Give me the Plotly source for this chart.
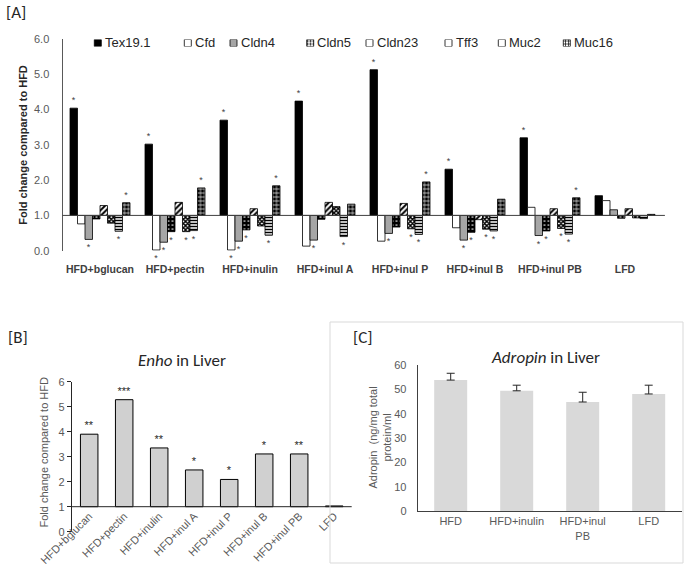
import plotly.graph_objects as go

# ---------------- data ----------------
GROUPS = ["HFD+bglucan", "HFD+pectin", "HFD+inulin", "HFD+inul A",
          "HFD+inul P", "HFD+inul B", "HFD+inul PB", "LFD"]
GENES = ["Tex19.1", "Cfd", "Cldn4", "Cldn5", "Cldn23", "Tff3", "Muc2", "Muc16"]

tex19 = [4.04, 3.02, 3.70, 4.24, 5.13, 2.31, 3.20, 1.56]
cfd = [0.76, 0.02, 0.02, 0.13, 0.27, 0.65, 1.23, 1.42]
cldn4 = [0.32, 0.24, 0.27, 0.30, 0.49, 0.30, 0.43, 1.16]
cldn5 = [0.90, 0.54, 0.59, 0.89, 0.67, 0.52, 0.56, 0.92]
cldn23 = [1.28, 1.37, 1.19, 1.37, 1.34, 0.88, 1.19, 1.19]
tff3 = [0.78, 0.54, 0.70, 1.25, 0.62, 0.61, 0.63, 0.93]
muc2 = [0.55, 0.57, 0.44, 0.40, 0.46, 0.56, 0.47, 0.91]
muc16 = [1.36, 1.78, 1.84, 1.32, 1.95, 1.46, 1.50, 1.03]

sig_tex19 = ["*", "*", "*", "*", "*", "*", "*", ""]
sig_cfd = ["", "*", "*", "", "", "", "", ""]
sig_cldn4 = ["*", "*", "*", "*", "*", "*", "*", ""]
sig_cldn5 = ["", "*", "*", "", "", "*", "*", ""]
sig_cldn23 = ["", "", "", "", "", "", "", ""]
sig_tff3 = ["", "*", "", "", "*", "*", "*", ""]
sig_muc2 = ["*", "*", "*", "*", "*", "*", "*", ""]
sig_muc16 = ["*", "*", "*", "", "*", "", "*", ""]

enho = [3.90, 5.28, 3.35, 2.47, 2.09, 3.11, 3.11, 1.03]
enho_sig = ["**", "***", "**", "*", "*", "*", "**", ""]

GROUPS_C = ["HFD", "HFD+inulin", "HFD+inul<br>PB", "LFD"]
adropin = [53.8, 49.4, 44.8, 48.1]
adropin_err = [2.8, 2.3, 4.0, 3.6]

HFD_LEVEL = 1.0

# ---------------- styles ----------------
W, H = 685, 572
FONT = "Liberation Sans, Arial, sans-serif"
TFONT = "Carlito, Lato, sans-serif"

STYLE = {
    "Tex19.1": dict(color="black", shape="", fg="black", bg="black", sol=0.3, size=4),
    "Cfd": dict(color="white", shape="", fg="white", bg="white", sol=0.3, size=4),
    "Cldn4": dict(color="#a6a6a6", shape="", fg="#a6a6a6", bg="#a6a6a6", sol=0.3, size=4),
    "Cldn5": dict(color="black", shape=".", fg="white", bg="black", sol=0.15, size=4),
    "Cldn23": dict(color="white", shape="/", fg="black", bg="white", sol=0.5, size=4),
    "Tff3": dict(color="white", shape="x", fg="black", bg="white", sol=0.7, size=3),
    "Muc2": dict(color="white", shape="-", fg="black", bg="white", sol=0.5, size=3),
    "Muc16": dict(color="black", shape="+", fg="white", bg="black", sol=0.3, size=4),
}


def px_x(p):
    return p / W


def px_y(p):
    return 1 - p / H


series = [tex19, cfd, cldn4, cldn5, cldn23, tff3, muc2, muc16]
sigs = [sig_tex19, sig_cfd, sig_cldn4, sig_cldn5, sig_cldn23, sig_tff3, sig_muc2, sig_muc16]

fig = go.Figure()

# ---------------- panel A ----------------
for gene, vals, sg in zip(GENES, series, sigs):
    st = STYLE[gene]
    mk = dict(color=st["color"], line=dict(color="black", width=0.8))
    if st["shape"]:
        mk["pattern"] = dict(shape=st["shape"], fgcolor=st["fg"], bgcolor=st["bg"],
                             size=st["size"], solidity=st["sol"], fillmode="replace")
    fig.add_trace(go.Bar(
        x=GROUPS, y=[v - HFD_LEVEL for v in vals], base=HFD_LEVEL, name=gene,
        marker=mk, text=sg, textposition="outside", constraintext="none",
        textfont=dict(size=9, color="#404040", family=FONT), cliponaxis=False,
        showlegend=False, xaxis="x", yaxis="y", hoverinfo="skip"))

# manual legend swatches (one bar each) on a pixel-unit helper axis
LEG_LEFT = [94.3, 184.3, 230, 306.7, 366, 445, 498.3, 563.3]
SW = 7
fig.add_trace(go.Bar(
    x=[l + SW / 2 for l in LEG_LEFT], y=[1] * len(GENES), width=SW,
    marker=dict(color=[STYLE[g]["color"] for g in GENES],
                line=dict(color="black", width=0.8),
                pattern=dict(shape=[STYLE[g]["shape"] for g in GENES],
                             fgcolor=[STYLE[g]["fg"] for g in GENES],
                             bgcolor=[STYLE[g]["bg"] for g in GENES],
                             size=3, solidity=0.4, fillmode="replace")),
    xaxis="x4", yaxis="y4", showlegend=False, hoverinfo="skip"))

# ---------------- panel B ----------------
fig.add_trace(go.Bar(
    x=GROUPS, y=[v - HFD_LEVEL for v in enho], base=HFD_LEVEL, width=0.5,
    marker=dict(color="#d0d0d0", line=dict(color="black", width=1)),
    text=enho_sig, textposition="outside", constraintext="none",
    textfont=dict(size=11, color="#262626", family=FONT), cliponaxis=False,
    xaxis="x2", yaxis="y2", showlegend=False, hoverinfo="skip"))

# ---------------- panel C ----------------
fig.add_trace(go.Bar(
    x=GROUPS_C, y=adropin, width=0.5, marker=dict(color="#d9d9d9", line=dict(width=0)),
    error_y=dict(type="data", array=adropin_err, arrayminus=[0] * len(adropin_err),
                 symmetric=False, color="#262626", thickness=1, width=4),
    xaxis="x3", yaxis="y3", showlegend=False, hoverinfo="skip"))

# ---------------- layout ----------------
gray = "#595959"
B_Y0, B_Y6 = 531.7, 381.7
b_line_px = B_Y0 - (B_Y0 - B_Y6) * HFD_LEVEL / 6  # pixel row of the y=1 axis line in B

fig.update_layout(
    width=W, height=H, margin=dict(l=0, r=0, t=0, b=0, autoexpand=False),
    paper_bgcolor="white", plot_bgcolor="rgba(0,0,0,0)",
    barmode="group", bargap=0.2, bargroupgap=0,
    font=dict(family=FONT, size=11, color=gray),
    xaxis=dict(domain=[px_x(62.5), px_x(662.5)], anchor="y", showline=False,
               ticks="", showgrid=False, zeroline=False, automargin=False,
               ticklabelstandoff=11,
               tickfont=dict(size=10.5, color="#404040", family=FONT, weight="bold")),
    yaxis=dict(domain=[px_y(250.7), px_y(39)], anchor="x", range=[0, 6], dtick=1,
               tickformat=".1f", showline=True, linecolor="#595959", linewidth=1,
               ticks="", showgrid=False, zeroline=False, ticklabelstandoff=10,
               automargin=False, tickfont=dict(size=11, color=gray)),
    xaxis2=dict(domain=[px_x(71.7), px_x(351.7)], anchor="free", position=px_y(b_line_px),
                showline=False, ticks="", showgrid=False, zeroline=False, tickangle=-45,
                automargin=False, tickfont=dict(size=11, color=gray)),
    yaxis2=dict(domain=[px_y(B_Y0), px_y(B_Y6)], anchor="x2", range=[0, 6], dtick=1,
                showline=True, linecolor="#262626", linewidth=1, ticks="outside",
                ticklen=4, tickcolor="#262626", showgrid=False, zeroline=False,
                automargin=False, tickfont=dict(size=11, color=gray)),
    xaxis3=dict(domain=[px_x(417.7), px_x(681.7)], anchor="y3", showline=True,
                linecolor="#404040", linewidth=1, ticks="", showgrid=False,
                zeroline=False, automargin=False, tickfont=dict(size=11, color=gray)),
    yaxis3=dict(domain=[px_y(511), px_y(365)], anchor="x3", range=[0, 60], dtick=10,
                showline=True, linecolor="#404040", linewidth=1, ticks="",
                showgrid=False, zeroline=False, ticklabelstandoff=8,
                automargin=False, tickfont=dict(size=11, color=gray)),
    xaxis4=dict(domain=[0, 1], range=[0, W], anchor="y4", visible=False,
                fixedrange=True, automargin=False),
    yaxis4=dict(domain=[px_y(46.5), px_y(39.5)], range=[0, 1], anchor="x4",
                visible=False, fixedrange=True, automargin=False),
)

shapes = [
    dict(type="line", xref="x domain", yref="y", x0=0, x1=1.004, y0=HFD_LEVEL, y1=HFD_LEVEL,
         line=dict(color="#404040", width=1)),
    dict(type="line", xref="x2 domain", yref="y2", x0=0, x1=1, y0=HFD_LEVEL, y1=HFD_LEVEL,
         line=dict(color="#262626", width=1)),
    dict(type="rect", xref="paper", yref="paper", x0=px_x(330), x1=px_x(683),
         y0=px_y(563), y1=px_y(322), line=dict(color="#d9d9d9", width=1)),
]
fig.update_layout(shapes=shapes)


def note(x, y, text, size=11, color=gray, family=FONT, angle=0, xanchor="center"):
    return dict(x=px_x(x), y=px_y(y), xref="paper", yref="paper", text=text,
                textangle=angle, showarrow=False, xanchor=xanchor, yanchor="middle",
                font=dict(size=size, color=color, family=family))


ann = []
# legend texts
for gene, l in zip(GENES, LEG_LEFT):
    ann.append(dict(x=l + SW + 1.5, y=0.5, xref="x4", yref="y4 domain", text=gene,
                    showarrow=False, xanchor="left", yanchor="middle",
                    font=dict(size=13, color="#262626", family=FONT)))
# axis titles
ann.append(note(22.7, 145, "<b>Fold change compared to HFD</b>", color="#262626", angle=-90))
ann.append(note(43, 452.5, "Fold change compared to HFD", angle=-90))
ann.append(note(379, 437.5, "Adropin  (ng/mg total<br>protein/ml", angle=-90))
# titles
ann.append(note(181.5, 360, "<i>Enho</i> in Liver", size=17, color="#262626", family=TFONT))
ann.append(note(545.5, 357.7, "<i>Adropin</i> in Liver", size=17, color="#262626", family=TFONT))
# panel labels
for lab, x, y in [("[A]", 4, 13), ("[B]", 6, 337), ("[C]", 351, 337)]:
    ann.append(note(x, y, lab, size=17, color="#262626", family=TFONT, xanchor="left"))
fig.update_layout(annotations=ann)

fig.write_html("out.html", config={"displayModeBar": False},
               post_script="document.body.style.margin='0';document.body.style.overflow='hidden';")
